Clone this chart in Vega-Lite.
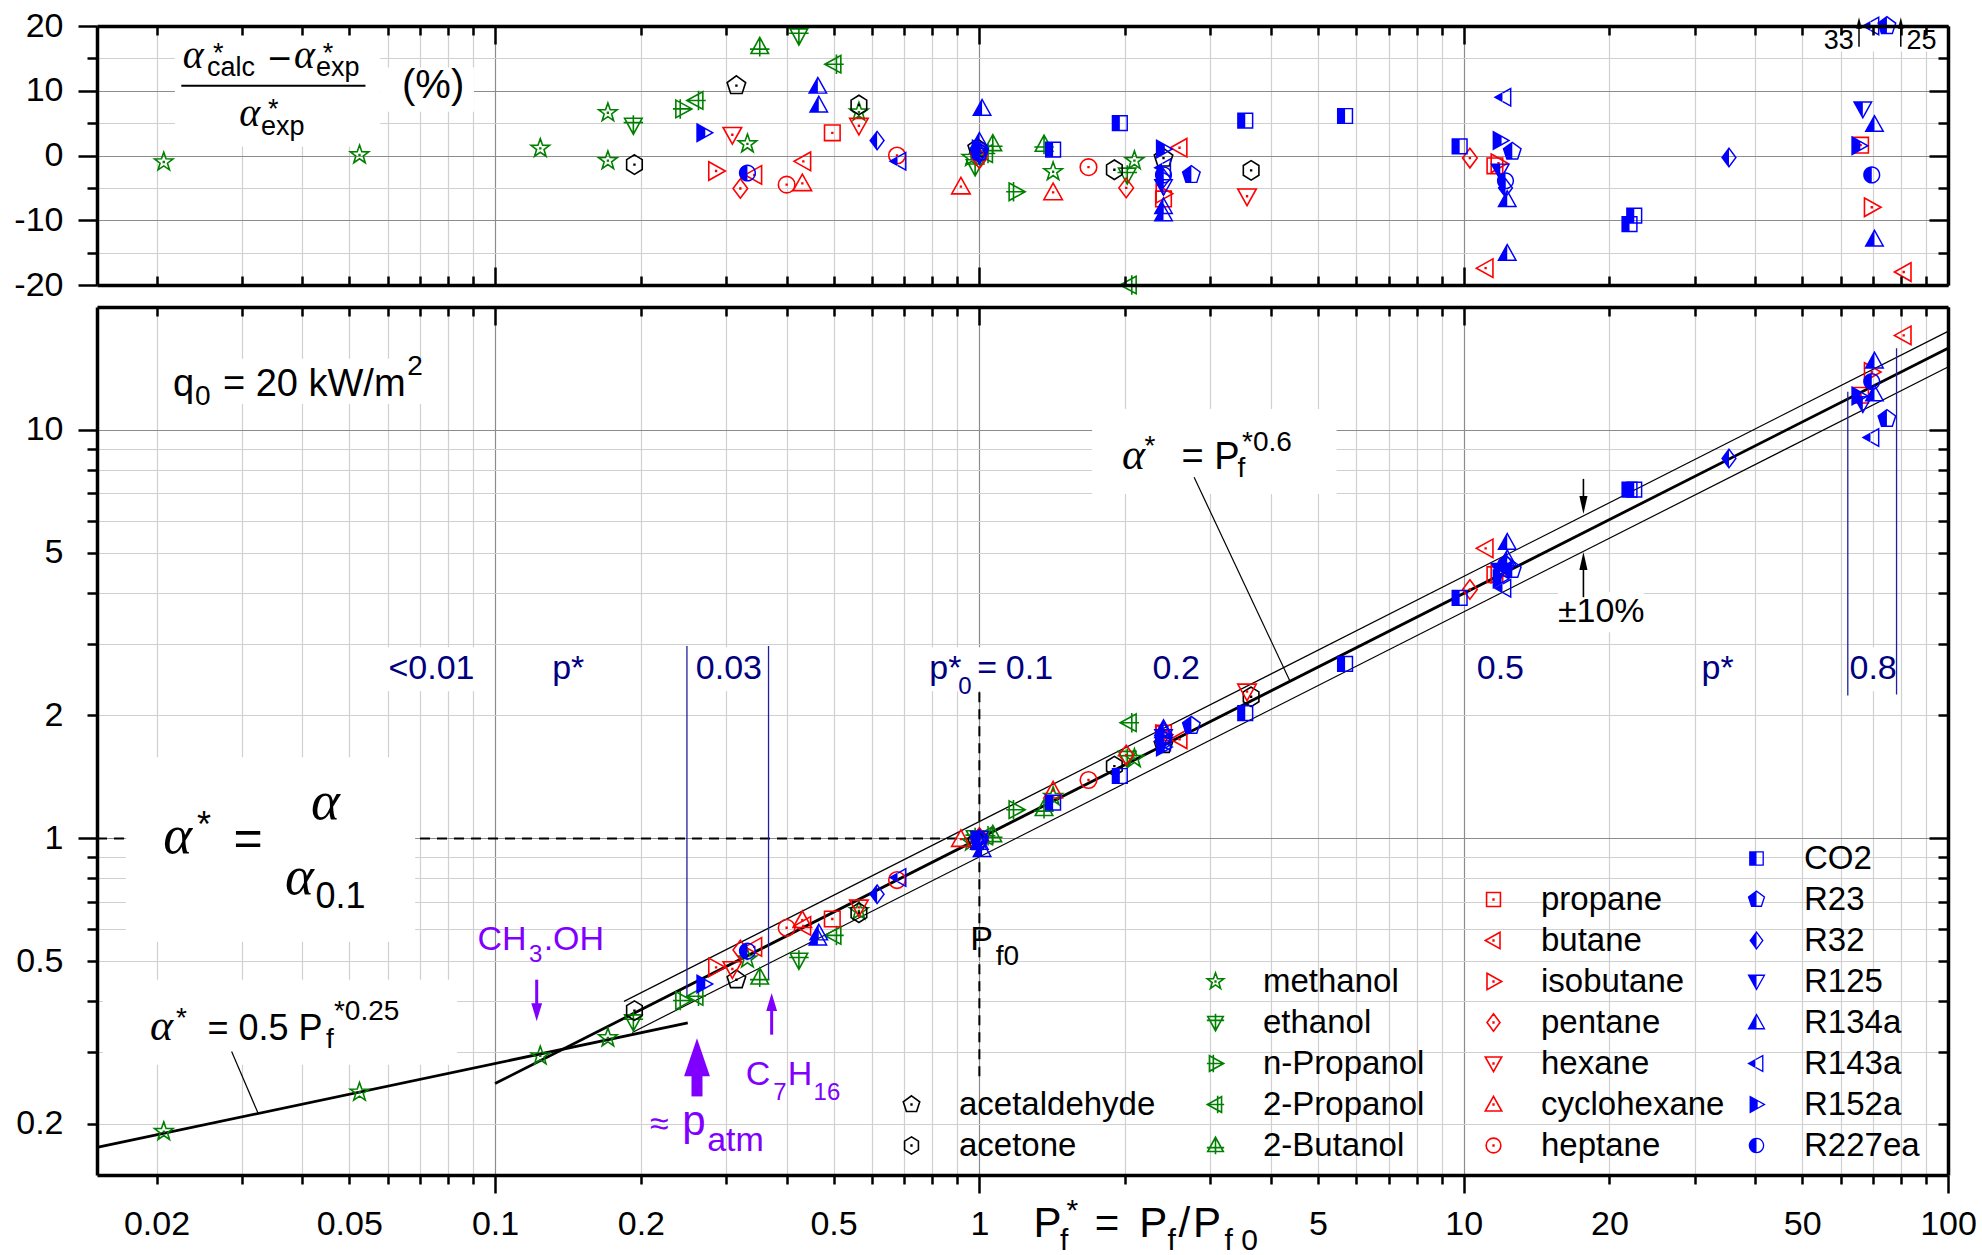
{
"$schema":"https://vega.github.io/schema/vega-lite/v6.json",
"background":"white",
"padding":{"left":13,"top":9,"right":5,"bottom":0},
"spacing":22,
"bounds":"flush",
"config":{
 "view":{"stroke":null},
 "axis":{"labelFont":"Liberation Sans","labelFontSize":34,"labelColor":"#000","tickColor":"#000","domainColor":"#000","labelFlush":false,"labelOverlap":false,"labelBound":false,"tickCap":"butt"},
 "text":{"font":"Liberation Sans"}
},
"resolve":{"scale":{"shape":"independent"},"legend":{"shape":"independent"}},
"datasets":{
 "dev":[
  {"s":"methanol","x":0.0207,"d":-1.0},{"s":"methanol","x":0.0525,"d":0.1},{"s":"methanol","x":0.124,"d":1.1},{"s":"methanol","x":0.171,"d":6.6},{"s":"methanol","x":0.171,"d":-0.8},{"s":"methanol","x":0.332,"d":1.8},{"s":"methanol","x":0.564,"d":6.7},{"s":"methanol","x":0.963,"d":-0.3},{"s":"methanol","x":1.42,"d":-2.5},{"s":"methanol","x":2.09,"d":-0.8},
  {"s":"ethanol","x":0.193,"d":4.7},{"s":"ethanol","x":0.424,"d":18.5},{"s":"ethanol","x":0.98,"d":-1.7},{"s":"ethanol","x":2.02,"d":-3.0},
  {"s":"n-Propanol","x":0.244,"d":7.2},{"s":"n-Propanol","x":1.19,"d":-5.6},
  {"s":"2-Propanol","x":0.26,"d":8.5},{"s":"2-Propanol","x":0.501,"d":14.1},{"s":"2-Propanol","x":1.03,"d":0.3},{"s":"2-Propanol","x":2.04,"d":-20.1},
  {"s":"2-Butanol","x":0.352,"d":16.8},{"s":"2-Butanol","x":1.066,"d":1.8},{"s":"2-Butanol","x":1.36,"d":1.7},
  {"s":"acetaldehyde","x":0.315,"d":10.8},{"s":"acetaldehyde","x":0.99,"d":1.1},{"s":"acetaldehyde","x":2.4,"d":-0.4},
  {"s":"acetone","x":0.194,"d":-1.4},{"s":"acetone","x":0.564,"d":7.8},{"s":"acetone","x":1.9,"d":-2.2},{"s":"acetone","x":3.64,"d":-2.3},
  {"s":"propane","x":0.497,"d":3.5},{"s":"propane","x":2.4,"d":-6.7},{"s":"propane","x":11.6,"d":-1.6},{"s":"propane","x":66,"d":1.6},
  {"s":"butane","x":0.343,"d":-3.0},{"s":"butane","x":0.433,"d":-0.9},{"s":"butane","x":2.59,"d":1.2},{"s":"butane","x":11.1,"d":-17.4},{"s":"butane","x":81,"d":-18.0},
  {"s":"isobutane","x":0.286,"d":-2.4},{"s":"isobutane","x":2.4,"d":-5.9},{"s":"isobutane","x":11.8,"d":-1.2},{"s":"isobutane","x":69.6,"d":-8.0},
  {"s":"pentane","x":0.321,"d":-5.1},{"s":"pentane","x":1.0,"d":-0.5},{"s":"pentane","x":2.01,"d":-5.0},{"s":"pentane","x":10.3,"d":-0.4},
  {"s":"hexane","x":0.309,"d":3.2},{"s":"hexane","x":0.564,"d":4.6},{"s":"hexane","x":3.57,"d":-6.3},
  {"s":"cyclohexane","x":0.431,"d":-4.3},{"s":"cyclohexane","x":0.916,"d":-4.8},{"s":"cyclohexane","x":1.42,"d":-5.7},
  {"s":"heptane","x":0.4,"d":-4.5},{"s":"heptane","x":0.676,"d":0.0},{"s":"heptane","x":1.0,"d":0.4},{"s":"heptane","x":1.68,"d":-1.8},
  {"s":"CO2","x":1.42,"d":0.9},{"s":"CO2","x":1.95,"d":5.0},{"s":"CO2","x":3.54,"d":5.4},{"s":"CO2","x":5.69,"d":6.1},{"s":"CO2","x":9.81,"d":1.4},{"s":"CO2","x":22.0,"d":-10.6},{"s":"CO2","x":22.5,"d":-9.3},
  {"s":"R23","x":1.0,"d":0.5},{"s":"R23","x":2.74,"d":-3.0},{"s":"R23","x":12.6,"d":0.6},{"s":"R23","x":74.8,"d":25},
  {"s":"R32","x":0.615,"d":2.3},{"s":"R32","x":1.0,"d":0.3},{"s":"R32","x":2.4,"d":-3.5},{"s":"R32","x":12.2,"d":-5.0},{"s":"R32","x":35.3,"d":-0.3},
  {"s":"R125","x":1.0,"d":0.0},{"s":"R125","x":2.4,"d":-4.8},{"s":"R125","x":11.9,"d":-2.4},{"s":"R125","x":66.7,"d":7.2},
  {"s":"R134a","x":0.464,"d":10.7},{"s":"R134a","x":0.466,"d":7.8},{"s":"R134a","x":1.013,"d":7.3},{"s":"R134a","x":1.0,"d":2.2},{"s":"R134a","x":2.4,"d":-7.9},{"s":"R134a","x":2.4,"d":-9.0},{"s":"R134a","x":12.3,"d":-6.8},{"s":"R134a","x":12.3,"d":-15.1},{"s":"R134a","x":70.5,"d":4.8},{"s":"R134a","x":70.5,"d":-12.9},
  {"s":"R143a","x":0.682,"d":-0.9},{"s":"R143a","x":2.4,"d":-1.9},{"s":"R143a","x":12.1,"d":9.0},{"s":"R143a","x":69.6,"d":33},
  {"s":"R152a","x":0.27,"d":3.5},{"s":"R152a","x":1.0,"d":1.0},{"s":"R152a","x":2.4,"d":1.0},{"s":"R152a","x":11.9,"d":2.3},{"s":"R152a","x":65.5,"d":1.5},
  {"s":"R227ea","x":0.332,"d":-2.7},{"s":"R227ea","x":1.0,"d":0.8},{"s":"R227ea","x":2.4,"d":-3.0},{"s":"R227ea","x":12.2,"d":-3.9},{"s":"R227ea","x":69.6,"d":-3.0}
 ],
 "alpha":[
  {"s":"methanol","x":0.0207,"a":0.1916},{"s":"methanol","x":0.0525,"a":0.2392},{"s":"methanol","x":0.124,"a":0.2935},{"s":"methanol","x":0.171,"a":0.325},{"s":"methanol","x":0.332,"a":0.507},{"s":"methanol","x":0.564,"a":0.665},{"s":"methanol","x":0.963,"a":0.9805},{"s":"methanol","x":1.42,"a":1.266},{"s":"methanol","x":2.09,"a":1.569},
  {"s":"ethanol","x":0.193,"a":0.356},{"s":"ethanol","x":0.424,"a":0.504},{"s":"ethanol","x":0.98,"a":1.005},{"s":"ethanol","x":2.02,"a":1.572},
  {"s":"n-Propanol","x":0.244,"a":0.401},{"s":"n-Propanol","x":1.19,"a":1.176},
  {"s":"2-Propanol","x":0.26,"a":0.4107},{"s":"2-Propanol","x":0.501,"a":0.579},{"s":"2-Propanol","x":1.03,"a":1.015},{"s":"2-Propanol","x":2.04,"a":1.92},
  {"s":"2-Butanol","x":0.352,"a":0.4575},{"s":"2-Butanol","x":1.066,"a":1.021},{"s":"2-Butanol","x":1.36,"a":1.1825},
  {"s":"acetaldehyde","x":0.315,"a":0.451},{"s":"acetaldehyde","x":0.99,"a":0.983},{"s":"acetaldehyde","x":2.4,"a":1.698},
  {"s":"acetone","x":0.194,"a":0.379},{"s":"acetone","x":0.564,"a":0.658},{"s":"acetone","x":1.9,"a":1.503},{"s":"acetone","x":3.64,"a":2.222},
  {"s":"propane","x":0.497,"a":0.635},{"s":"propane","x":2.4,"a":1.812},{"s":"propane","x":11.6,"a":4.423},{"s":"propane","x":66,"a":12.16},
  {"s":"butane","x":0.343,"a":0.5426},{"s":"butane","x":0.433,"a":0.6107},{"s":"butane","x":2.59,"a":1.749},{"s":"butane","x":11.1,"a":5.131},{"s":"butane","x":81,"a":17.04},
  {"s":"isobutane","x":0.286,"a":0.4835},{"s":"isobutane","x":2.4,"a":1.797},{"s":"isobutane","x":11.8,"a":4.45},{"s":"isobutane","x":69.6,"a":13.86},
  {"s":"pentane","x":0.321,"a":0.533},{"s":"pentane","x":1.0,"a":1.005},{"s":"pentane","x":2.01,"a":1.6},{"s":"pentane","x":10.3,"a":4.068},
  {"s":"hexane","x":0.309,"a":0.479},{"s":"hexane","x":0.564,"a":0.678},{"s":"hexane","x":3.57,"a":2.29},
  {"s":"cyclohexane","x":0.431,"a":0.6306},{"s":"cyclohexane","x":0.916,"a":0.9965},{"s":"cyclohexane","x":1.42,"a":1.309},
  {"s":"heptane","x":0.4,"a":0.6043},{"s":"heptane","x":0.676,"a":0.791},{"s":"heptane","x":1.0,"a":0.996},{"s":"heptane","x":1.68,"a":1.39},
  {"s":"CO2","x":1.42,"a":1.223},{"s":"CO2","x":1.95,"a":1.422},{"s":"CO2","x":3.54,"a":2.027},{"s":"CO2","x":5.69,"a":2.675},{"s":"CO2","x":9.81,"a":3.881},{"s":"CO2","x":22.0,"a":7.147},{"s":"CO2","x":22.5,"a":7.14},
  {"s":"R23","x":1.0,"a":0.995},{"s":"R23","x":2.74,"a":1.888},{"s":"R23","x":12.6,"a":4.546},{"s":"R23","x":74.8,"a":10.65},
  {"s":"R32","x":0.615,"a":0.73},{"s":"R32","x":1.0,"a":0.997},{"s":"R32","x":2.4,"a":1.752},{"s":"R32","x":12.2,"a":4.722},{"s":"R32","x":35.3,"a":8.511},
  {"s":"R125","x":1.0,"a":1.0},{"s":"R125","x":2.4,"a":1.776},{"s":"R125","x":11.9,"a":4.528},{"s":"R125","x":66.7,"a":11.6},
  {"s":"R134a","x":0.464,"a":0.57},{"s":"R134a","x":0.466,"a":0.587},{"s":"R134a","x":1.013,"a":0.939},{"s":"R134a","x":1.0,"a":0.978},{"s":"R134a","x":2.4,"a":1.836},{"s":"R134a","x":2.4,"a":1.858},{"s":"R134a","x":12.3,"a":4.837},{"s":"R134a","x":12.3,"a":5.309},{"s":"R134a","x":70.5,"a":12.26},{"s":"R134a","x":70.5,"a":14.75},
  {"s":"R143a","x":0.682,"a":0.802},{"s":"R143a","x":2.4,"a":1.724},{"s":"R143a","x":12.1,"a":4.095},{"s":"R143a","x":69.6,"a":9.59},
  {"s":"R152a","x":0.27,"a":0.4405},{"s":"R152a","x":1.0,"a":0.99},{"s":"R152a","x":2.4,"a":1.674},{"s":"R152a","x":11.9,"a":4.32},{"s":"R152a","x":65.5,"a":12.11},
  {"s":"R227ea","x":0.332,"a":0.53},{"s":"R227ea","x":1.0,"a":0.992},{"s":"R227ea","x":2.4,"a":1.743},{"s":"R227ea","x":12.2,"a":4.668},{"s":"R227ea","x":69.6,"a":13.14}
 ],
 "bL":[
  {"id":"fit","x":0.1,"y":0.2512},{"id":"fit","x":100,"y":15.85},
  {"id":"lowfit","x":0.01507,"y":0.1752},{"id":"lowfit","x":0.25,"y":0.3536},
  {"id":"plus10","x":0.1846,"y":0.3992},{"id":"plus10","x":100,"y":17.43},
  {"id":"minus10","x":0.192,"y":0.335},{"id":"minus10","x":100,"y":14.26},
  {"id":"lead1","x":0.02858,"y":0.301},{"id":"lead1","x":0.0324,"y":0.2127},
  {"id":"lead2","x":2.776,"y":7.66},{"id":"lead2","x":4.377,"y":2.43},
  {"id":"v1","x":0.249,"y":2.96},{"id":"v1","x":0.249,"y":0.41},
  {"id":"v2","x":0.367,"y":2.96},{"id":"v2","x":0.367,"y":0.451},
  {"id":"v3","x":62.1,"y":12.4},{"id":"v3","x":62.1,"y":2.24},
  {"id":"v4","x":78.3,"y":15.85},{"id":"v4","x":78.3,"y":2.25},
  {"id":"dashH","x":0.01507,"y":1},{"id":"dashH","x":1,"y":1},
  {"id":"dashV","x":1,"y":2.28},{"id":"dashV","x":1,"y":0.255},
  {"id":"arrD","x":17.67,"y":7.59},{"id":"arrD","x":17.67,"y":6.85},
  {"id":"arrU","x":17.67,"y":3.896},{"id":"arrU","x":17.67,"y":4.6},
  {"id":"ch3","x":0.1219,"y":0.451},{"id":"ch3","x":0.1219,"y":0.39},
  {"id":"c7","x":0.3725,"y":0.3309},{"id":"c7","x":0.3725,"y":0.385},
  {"id":"patm","x":0.2612,"y":0.2336},{"id":"patm","x":0.2612,"y":0.27}
 ],
 "bH":[
  {"id":"arrD","x":17.67,"y":6.551},{"id":"arrU","x":17.67,"y":4.775},{"id":"ch3","x":0.1219,"y":0.3756},{"id":"c7","x":0.3725,"y":0.3975},{"id":"patm","x":0.2612,"y":0.2913}
 ],
 "bB":[
  {"x":0.02077,"x2":0.07295,"y":11.58,"y2":14.93},
  {"x":0.01728,"x2":0.0684,"y":0.559,"y2":1.58},
  {"x":0.0155,"x2":0.0835,"y":0.2793,"y2":0.451},
  {"x":1.708,"x2":5.464,"y":6.97,"y2":11.26},
  {"x":15.65,"x2":23.54,"y":3.198,"y2":4.009},
  {"x":0.05954,"x2":0.09136,"y":2.293,"y2":2.938},
  {"x":0.1287,"x2":0.1556,"y":2.293,"y2":2.938},
  {"x":0.2529,"x2":0.3613,"y":2.293,"y2":2.938},
  {"x":0.7734,"x2":1.456,"y":2.293,"y2":2.938},
  {"x":2.235,"x2":2.917,"y":2.293,"y2":2.938},
  {"x":10.44,"x2":13.75,"y":2.293,"y2":2.938},
  {"x":30.44,"x2":37.36,"y":2.293,"y2":2.938},
  {"x":62.44,"x2":78.09,"y":2.293,"y2":2.938}
 ],
 "bA55":[{"x":0.02066,"y":0.9225,"t":"α"},{"x":0.04167,"y":1.1131,"t":"α"},{"x":0.03682,"y":0.7291,"t":"α"}],
 "bA40":[{"x":0.0194,"y":0.3217,"t":"α"},{"x":1.971,"y":8.025,"t":"α"}],
 "bT50":[{"x":0.02883,"y":0.9085,"t":"="}],
 "bT38":[{"x":0.02163,"y":12.14,"t":"q"},{"x":0.02742,"y":12.14,"t":"= 20 kW/m"},{"x":2.615,"y":8.025,"t":"= P"}],
 "bT36":[{"x":0.02423,"y":1.011,"t":"*"},{"x":0.04259,"y":0.6763,"t":"0.1"},{"x":0.02549,"y":0.3217,"t":"= 0.5 P"}],
 "bT34":[{"x":15.65,"y":3.379,"t":"±10%"},{"x":0.9572,"y":0.5344,"t":"P"}],
 "bT28":[{"x":0.024,"y":11.51,"t":"0"},{"x":0.0659,"y":13.64,"t":"2"},{"x":0.02193,"y":0.3447,"t":"*"},{"x":0.04475,"y":0.3069,"t":"f"},{"x":0.04649,"y":0.36,"t":"*0.25"},{"x":2.193,"y":8.684,"t":"*"},{"x":3.412,"y":7.671,"t":"f"},{"x":3.486,"y":8.898,"t":"*0.6"},{"x":1.0806,"y":0.4911,"t":"f0"}],
 "bN34":[{"x":0.06025,"y":2.453,"t":"<0.01"},{"x":0.1312,"y":2.453,"t":"p*"},{"x":0.2597,"y":2.453,"t":"0.03"},{"x":0.7883,"y":2.453,"t":"p*"},{"x":0.9905,"y":2.453,"t":"="},{"x":1.134,"y":2.453,"t":"0.1"},{"x":2.278,"y":2.453,"t":"0.2"},{"x":10.64,"y":2.453,"t":"0.5"},{"x":30.98,"y":2.453,"t":"p*"},{"x":62.6,"y":2.453,"t":"0.8"}],
 "bN24":[{"x":0.905,"y":2.254,"t":"0"}],
 "bP34":[{"x":0.09202,"y":0.5344,"t":"CH"},{"x":0.126,"y":0.5344,"t":".OH"},{"x":0.3295,"y":0.2495,"t":"C"},{"x":0.4021,"y":0.2495,"t":"H"},{"x":0.2088,"y":0.1881,"t":"≈"},{"x":0.2742,"y":0.1713,"t":"atm"}],
 "bP24":[{"x":0.1175,"y":0.4975,"t":"3"},{"x":0.3753,"y":0.2293,"t":"7"},{"x":0.4546,"y":0.2293,"t":"16"}],
 "bP42":[{"x":0.2434,"y":0.1881,"t":"p"}],
 "bX42":[{"x":1.293,"y":0.1059,"t":"P"},{"x":1.731,"y":0.1059,"t":"="},{"x":2.138,"y":0.1059,"t":"P"},{"x":2.577,"y":0.1059,"t":"/"},{"x":2.761,"y":0.1059,"t":"P"}],
 "bX30":[{"x":1.467,"y":0.09831,"t":"f"},{"x":1.513,"y":0.1165,"t":"*"},{"x":2.446,"y":0.09831,"t":"f"},{"x":3.208,"y":0.09831,"t":"f 0"}],
 "tL":[
  {"id":"bar","x":0.0225,"y":10.77},{"id":"bar","x":0.054,"y":10.77},
  {"id":"a33","x":65.5,"y":16.8},{"id":"a33","x":65.5,"y":19.7},
  {"id":"a25","x":79.9,"y":16.8},{"id":"a25","x":79.9,"y":19.7}
 ],
 "tH":[{"x":65.5,"y":20.46},{"x":79.9,"y":20.46}],
 "tB":[{"x":0.02182,"x2":0.0579,"y":1.4,"y2":19.4},{"x":0.0579,"x2":0.0905,"y":6.75,"y2":13.6},{"x":54.4,"x2":100,"y":16.07,"y2":21}],
 "tA40":[{"x":0.02266,"y":13.51,"t":"α"},{"x":0.03843,"y":13.51,"t":"α"},{"x":0.02965,"y":4.48,"t":"α"}],
 "tT27":[{"x":0.02615,"y":14.44,"t":"*"},{"x":0.02541,"y":12.21,"t":"calc"},{"x":0.0441,"y":14.44,"t":"*"},{"x":0.04268,"y":12.21,"t":"exp"},{"x":0.03396,"y":5.72,"t":"*"},{"x":0.03285,"y":3.2,"t":"exp"},{"x":55.4,"y":16.45,"t":"33"},{"x":82.1,"y":16.45,"t":"25"}],
 "tT40":[{"x":0.03396,"y":12.94,"t":"−"},{"x":0.06426,"y":8.84,"t":"(%)"}]
},
"vconcat":[
{
 "width":1851,"height":259,
 "resolve":{"scale":{"shape":"independent","y":"independent"},"axis":{"x":"independent","y":"independent"}},
 "layer":[
  {"data":{"values":[]},"mark":{"type":"point","opacity":0},"encoding":{
   "x":{"field":"x","type":"quantitative","scale":{"type":"log","domain":[0.01507,100],"nice":false},"axis":{"orient":"bottom","values":[0.02,0.03,0.04,0.05,0.06,0.07,0.08,0.09,0.2,0.3,0.4,0.5,0.6,0.7,0.8,0.9,2,3,4,5,6,7,8,9,20,30,40,50,60,70,80,90],"grid":true,"gridColor":"#d0d0d0","gridWidth":1.2,"ticks":false,"labels":false,"domain":false,"title":null,"zindex":0}},
   "y":{"field":"y","type":"quantitative","scale":{"domain":[-20,20],"nice":false,"zero":false},"axis":{"orient":"left","values":[-15,-5,5,15],"grid":true,"gridColor":"#d0d0d0","gridWidth":1.2,"ticks":false,"labels":false,"domain":false,"title":null,"zindex":0}}}},
  {"data":{"values":[]},"mark":{"type":"point","opacity":0},"encoding":{
   "x":{"field":"x","type":"quantitative","scale":{"type":"log","domain":[0.01507,100],"nice":false},"axis":{"orient":"bottom","values":[0.1,1,10,100],"grid":true,"gridColor":"#8c8c8c","gridWidth":1.2,"ticks":false,"labels":false,"domain":false,"title":null,"zindex":0}},
   "y":{"field":"y","type":"quantitative","scale":{"domain":[-20,20],"nice":false,"zero":false},"axis":{"orient":"left","values":[-10,0,10],"grid":true,"gridColor":"#8c8c8c","gridWidth":1.2,"ticks":false,"labels":false,"domain":false,"title":null,"zindex":0}}}},
  {"data":{"values":[]},"mark":{"type":"point","opacity":0},"encoding":{
   "x":{"field":"x","type":"quantitative","scale":{"type":"log","domain":[0.01507,100],"nice":false},"axis":{"orient":"bottom","values":[0.02,0.03,0.04,0.05,0.06,0.07,0.08,0.09,0.2,0.3,0.4,0.5,0.6,0.7,0.8,0.9,2,3,4,5,6,7,8,9,20,30,40,50,60,70,80,90],"offset":-9,"tickSize":9,"tickWidth":2.5,"grid":false,"labels":false,"domain":false,"title":null,"zindex":1}},
   "y":{"field":"y","type":"quantitative","scale":{"domain":[-20,20],"nice":false,"zero":false},"axis":{"orient":"left","values":[-15,-5,5,15],"tickSize":10,"tickWidth":2.5,"grid":false,"labels":false,"domain":false,"title":null,"zindex":1}}}},
  {"data":{"values":[]},"mark":{"type":"point","opacity":0},"encoding":{
   "x":{"field":"x","type":"quantitative","scale":{"type":"log","domain":[0.01507,100],"nice":false},"axis":{"orient":"bottom","values":[0.1,1,10,100],"offset":-18,"tickSize":18,"tickWidth":2.5,"grid":false,"labels":false,"domain":false,"title":null,"zindex":1}},
   "y":{"field":"y","type":"quantitative","scale":{"domain":[-20,20],"nice":false,"zero":false},"axis":{"orient":"left","values":[-20,-10,0,10,20],"tickSize":19,"tickWidth":2.5,"grid":false,"labels":false,"domain":true,"domainWidth":3.5,"title":null,"zindex":1}}}},
  {"data":{"values":[]},"mark":{"type":"point","opacity":0},"encoding":{
   "x":{"field":"x","type":"quantitative","scale":{"type":"log","domain":[0.01507,100],"nice":false},"axis":{"orient":"bottom","ticks":false,"grid":false,"labels":false,"domain":true,"domainWidth":3.5,"title":null,"zindex":1}},
   "y":{"field":"y","type":"quantitative","scale":{"domain":[-20,20],"nice":false,"zero":false},"axis":{"orient":"left","values":[-20,-10,0,10,20],"labelExpr":"replace(datum.label, '−', '-')","ticks":false,"grid":false,"labels":true,"labelPadding":34,"domain":false,"title":null,"zindex":1}}}},
  {"data":{"values":[]},"mark":{"type":"point","opacity":0},"encoding":{
   "x":{"field":"x","type":"quantitative","scale":{"type":"log","domain":[0.01507,100],"nice":false},"axis":{"orient":"top","values":[0.02,0.03,0.04,0.05,0.06,0.07,0.08,0.09,0.2,0.3,0.4,0.5,0.6,0.7,0.8,0.9,2,3,4,5,6,7,8,9,20,30,40,50,60,70,80,90],"offset":-9,"tickSize":9,"tickWidth":2.5,"grid":false,"labels":false,"domain":false,"title":null,"zindex":1}},
   "y":{"field":"y","type":"quantitative","scale":{"domain":[-20,20],"nice":false,"zero":false},"axis":{"orient":"right","values":[-15,-5,5,15],"offset":-10,"tickSize":10,"tickWidth":2.5,"grid":false,"labels":false,"domain":false,"title":null,"zindex":1}}}},
  {"data":{"values":[]},"mark":{"type":"point","opacity":0},"encoding":{
   "x":{"field":"x","type":"quantitative","scale":{"type":"log","domain":[0.01507,100],"nice":false},"axis":{"orient":"top","values":[0.1,1,10,100],"offset":-18,"tickSize":18,"tickWidth":2.5,"grid":false,"labels":false,"domain":false,"title":null,"zindex":1}},
   "y":{"field":"y","type":"quantitative","scale":{"domain":[-20,20],"nice":false,"zero":false},"axis":{"orient":"right","values":[-20,-10,0,10,20],"offset":-19,"tickSize":19,"tickWidth":2.5,"grid":false,"labels":false,"domain":false,"title":null,"zindex":1}}}},
  {"data":{"values":[]},"mark":{"type":"point","opacity":0},"encoding":{
   "x":{"field":"x","type":"quantitative","scale":{"type":"log","domain":[0.01507,100],"nice":false},"axis":{"orient":"top","ticks":false,"grid":false,"labels":false,"domain":true,"domainWidth":3.5,"title":null,"zindex":1}},
   "y":{"field":"y","type":"quantitative","scale":{"domain":[-20,20],"nice":false,"zero":false},"axis":{"orient":"right","ticks":false,"grid":false,"labels":false,"domain":true,"domainWidth":3.5,"title":null,"zindex":1}}}},
  {"data":{"name":"tB"},"mark":{"type":"rect","color":"white"},"encoding":{
   "x":{"field":"x","type":"quantitative","scale":{"type":"log","domain":[0.01507,100],"nice":false},"axis":null},"x2":{"field":"x2"},
   "y":{"field":"y","type":"quantitative","scale":{"domain":[-20,20],"nice":false,"zero":false},"axis":null},"y2":{"field":"y2"}}},
  {"data":{"name":"dev"},"transform":[{"filter":{"field":"s","oneOf":["methanol","ethanol","n-Propanol","2-Propanol","2-Butanol"]}}],
   "mark":{"type":"point","filled":false,"color":"#008000","strokeWidth":1.6,"size":380,"opacity":1},
   "encoding":{"x":{"field":"x","type":"quantitative","scale":{"type":"log","domain":[0.01507,100],"nice":false},"axis":null},
    "y":{"field":"d","type":"quantitative","scale":{"domain":[-20,20],"nice":false,"zero":false,"clamp":true},"axis":null},
    "shape":{"field":"s","type":"nominal","legend":null,"scale":{"domain":["methanol","ethanol","n-Propanol","2-Propanol","2-Butanol"],"range":[
     "M0,-1L0.235,-0.324L0.951,-0.309L0.38,0.124L0.588,0.809L0,0.4L-0.588,0.809L-0.38,0.124L-0.951,-0.309L-0.235,-0.324Z M-0.04,-0.04L0.04,-0.04L0.04,0.04L-0.04,0.04Z",
     "M-0.9,-0.7L0.9,-0.7L0,0.95Z M-1,-0.25L1,-0.25 M0,-1L0,0.95",
     "M-0.7,-0.9L0.95,0L-0.7,0.9Z M-0.25,-1L-0.25,1 M-1,0L0.95,0",
     "M0.7,-0.9L-0.95,0L0.7,0.9Z M0.25,-1L0.25,1 M1,0L-0.95,0",
     "M-0.9,0.7L0.9,0.7L0,-0.95Z M-1,0.25L1,0.25 M0,1L0,-0.95"]}}}},
  {"data":{"name":"dev"},"transform":[{"filter":{"field":"s","oneOf":["acetaldehyde","acetone"]}}],
   "mark":{"type":"point","filled":false,"color":"#000000","strokeWidth":1.6,"size":380,"opacity":1},
   "encoding":{"x":{"field":"x","type":"quantitative","scale":{"type":"log","domain":[0.01507,100],"nice":false},"axis":null},
    "y":{"field":"d","type":"quantitative","scale":{"domain":[-20,20],"nice":false,"zero":false,"clamp":true},"axis":null},
    "shape":{"field":"s","type":"nominal","legend":null,"scale":{"domain":["acetaldehyde","acetone"],"range":[
     "M0,-1L0.951,-0.309L0.588,0.809L-0.588,0.809L-0.951,-0.309Z M-0.04,-0.04L0.04,-0.04L0.04,0.04L-0.04,0.04Z",
     "M0,-1L0.8,-0.5L0.8,0.5L0,1L-0.8,0.5L-0.8,-0.5Z M-0.04,-0.04L0.04,-0.04L0.04,0.04L-0.04,0.04Z"]}}}},
  {"data":{"name":"dev"},"transform":[{"filter":{"field":"s","oneOf":["propane","butane","isobutane","pentane","hexane","cyclohexane","heptane"]}}],
   "mark":{"type":"point","filled":false,"color":"#ff0000","strokeWidth":1.6,"size":380,"opacity":1},
   "encoding":{"x":{"field":"x","type":"quantitative","scale":{"type":"log","domain":[0.01507,100],"nice":false},"axis":null},
    "y":{"field":"d","type":"quantitative","scale":{"domain":[-20,20],"nice":false,"zero":false,"clamp":true},"axis":null},
    "shape":{"field":"s","type":"nominal","legend":null,"scale":{"domain":["propane","butane","isobutane","pentane","hexane","cyclohexane","heptane"],"range":[
     "M-0.8,-0.8L0.8,-0.8L0.8,0.8L-0.8,0.8Z M-0.04,-0.04L0.04,-0.04L0.04,0.04L-0.04,0.04Z",
     "M0.75,-0.95L-0.95,0L0.75,0.95Z M-0.04,-0.04L0.04,-0.04L0.04,0.04L-0.04,0.04Z",
     "M-0.75,-0.95L0.95,0L-0.75,0.95Z M-0.04,-0.04L0.04,-0.04L0.04,0.04L-0.04,0.04Z",
     "M0,-1L0.75,0L0,1L-0.75,0Z M-0.04,-0.04L0.04,-0.04L0.04,0.04L-0.04,0.04Z",
     "M-0.95,-0.75L0.95,-0.75L0,0.95Z M-0.04,-0.04L0.04,-0.04L0.04,0.04L-0.04,0.04Z",
     "M-0.95,0.75L0.95,0.75L0,-0.95Z M-0.04,-0.04L0.04,-0.04L0.04,0.04L-0.04,0.04Z",
     "M-0.85,0A0.85,0.85 0 1,0 0.85,0A0.85,0.85 0 1,0 -0.85,0Z M-0.04,-0.04L0.04,-0.04L0.04,0.04L-0.04,0.04Z"]}}}},
  {"data":{"name":"dev"},"transform":[{"filter":{"field":"s","oneOf":["CO2","R23","R32","R125","R134a","R143a","R152a","R227ea"]}}],
   "mark":{"type":"point","filled":true,"color":"#0000ff","strokeWidth":0,"size":340,"opacity":1},
   "encoding":{"x":{"field":"x","type":"quantitative","scale":{"type":"log","domain":[0.01507,100],"nice":false},"axis":null},
    "y":{"field":"d","type":"quantitative","scale":{"domain":[-20,20],"nice":false,"zero":false,"clamp":true},"axis":null},
    "shape":{"field":"s","type":"nominal","legend":null,"scale":{"domain":["CO2","R23","R32","R125","R134a","R143a","R152a","R227ea"],"range":[
     "M-0.88,-0.88L0,-0.88L0,0.88L-0.88,0.88Z M0,-0.88L0.88,-0.88L0.88,0.88L0,0.88L0,0.72L0.72,0.72L0.72,-0.72L0,-0.72Z",
     "M0,-1.099L-1.045,-0.34L-0.646,0.889L0,0.889Z M0,-1.099L1.045,-0.34L0.646,0.889L0,0.889L0,0.729L0.53,0.729L0.857,-0.278L0,-0.901Z",
     "M0,-1.133L-0.85,0L0,1.133Z M0,-1.133L0.85,0L0,1.133L0,0.867L0.65,0L0,-0.867Z",
     "M0,-0.83L-1.086,-0.83L0,1.114Z M0,-0.83L1.086,-0.83L0,1.114L0,0.786L0.814,-0.67L0,-0.67Z",
     "M0,0.83L-1.086,0.83L0,-1.114Z M0,0.83L1.086,0.83L0,-1.114L0,-0.786L0.814,0.67L0,0.67Z",
     "M-1.114,0L-0.142,-0.543L-0.142,0.543Z M-0.142,-0.543L0.83,-1.086L0.83,1.086L-0.142,0.543L-0.058,0.407L0.67,0.814L0.67,-0.814L-0.058,-0.407Z",
     "M-0.83,-1.086L0.142,-0.543L0.142,0.543L-0.83,1.086Z M0.142,-0.543L1.114,0L0.142,0.543L0.058,0.407L0.786,0L0.058,-0.407Z",
     "M0,-0.93A0.93,0.93 0 0,0 0,0.93Z M0,-0.93A0.93,0.93 0 0,1 0,0.93L0,0.77A0.77,0.77 0 0,0 0,-0.77Z"]}}}},
  {"data":{"name":"tL"},"transform":[{"filter":{"field":"id","equal":"bar"}}],"mark":{"type":"line","color":"black","strokeWidth":2},"encoding":{
   "x":{"field":"x","type":"quantitative","scale":{"type":"log","domain":[0.01507,100],"nice":false},"axis":null},
   "y":{"field":"y","type":"quantitative","scale":{"domain":[-20,20],"nice":false,"zero":false},"axis":null},"detail":{"field":"id"}}},
  {"data":{"name":"tL"},"transform":[{"filter":{"field":"id","oneOf":["a33","a25"]}}],"mark":{"type":"line","color":"black","strokeWidth":1.5},"encoding":{
   "x":{"field":"x","type":"quantitative","scale":{"type":"log","domain":[0.01507,100],"nice":false},"axis":null},
   "y":{"field":"y","type":"quantitative","scale":{"domain":[-20,20],"nice":false,"zero":false},"axis":null},"detail":{"field":"id"}}},
  {"data":{"name":"tH"},"mark":{"type":"point","shape":"M0,-1L0.5,1L-0.5,1Z","filled":true,"color":"black","size":128,"opacity":1,"strokeWidth":0},"encoding":{
   "x":{"field":"x","type":"quantitative","scale":{"type":"log","domain":[0.01507,100],"nice":false},"axis":null},
   "y":{"field":"y","type":"quantitative","scale":{"domain":[-20,20],"nice":false,"zero":false},"axis":null}}},
  {"data":{"name":"tA40"},"mark":{"type":"text","align":"left","baseline":"alphabetic","font":"Liberation Serif","fontStyle":"italic","fontSize":40,"color":"black"},"encoding":{
   "x":{"field":"x","type":"quantitative","scale":{"type":"log","domain":[0.01507,100],"nice":false},"axis":null},
   "y":{"field":"y","type":"quantitative","scale":{"domain":[-20,20],"nice":false,"zero":false},"axis":null},"text":{"field":"t"}}},
  {"data":{"name":"tT27"},"mark":{"type":"text","align":"left","baseline":"alphabetic","font":"Liberation Sans","fontSize":27,"color":"black"},"encoding":{
   "x":{"field":"x","type":"quantitative","scale":{"type":"log","domain":[0.01507,100],"nice":false},"axis":null},
   "y":{"field":"y","type":"quantitative","scale":{"domain":[-20,20],"nice":false,"zero":false},"axis":null},"text":{"field":"t"}}},
  {"data":{"name":"tT40"},"mark":{"type":"text","align":"left","baseline":"alphabetic","font":"Liberation Sans","fontSize":40,"color":"black"},"encoding":{
   "x":{"field":"x","type":"quantitative","scale":{"type":"log","domain":[0.01507,100],"nice":false},"axis":null},
   "y":{"field":"y","type":"quantitative","scale":{"domain":[-20,20],"nice":false,"zero":false},"axis":null},"text":{"field":"t"}}}
 ]
},
{
 "width":1851,"height":868,
 "resolve":{"scale":{"shape":"independent"},"axis":{"x":"independent","y":"independent"},"legend":{"shape":"independent"}},
 "layer":[
  {"data":{"values":[]},"mark":{"type":"point","opacity":0},"encoding":{
   "x":{"field":"x","type":"quantitative","scale":{"type":"log","domain":[0.01507,100],"nice":false},"axis":{"orient":"bottom","values":[0.02,0.03,0.04,0.05,0.06,0.07,0.08,0.09,0.2,0.3,0.4,0.5,0.6,0.7,0.8,0.9,2,3,4,5,6,7,8,9,20,30,40,50,60,70,80,90],"grid":true,"gridColor":"#d0d0d0","gridWidth":1.2,"ticks":false,"labels":false,"domain":false,"title":null,"zindex":0}},
   "y":{"field":"y","type":"quantitative","scale":{"type":"log","domain":[0.15,20],"nice":false},"axis":{"orient":"left","values":[0.2,0.3,0.4,0.5,0.6,0.7,0.8,0.9,2,3,4,5,6,7,8,9],"grid":true,"gridColor":"#d0d0d0","gridWidth":1.2,"ticks":false,"labels":false,"domain":false,"title":null,"zindex":0}}}},
  {"data":{"values":[]},"mark":{"type":"point","opacity":0},"encoding":{
   "x":{"field":"x","type":"quantitative","scale":{"type":"log","domain":[0.01507,100],"nice":false},"axis":{"orient":"bottom","values":[0.1,1,10,100],"grid":true,"gridColor":"#8c8c8c","gridWidth":1.2,"ticks":false,"labels":false,"domain":false,"title":null,"zindex":0}},
   "y":{"field":"y","type":"quantitative","scale":{"type":"log","domain":[0.15,20],"nice":false},"axis":{"orient":"left","values":[1,10],"grid":true,"gridColor":"#8c8c8c","gridWidth":1.2,"ticks":false,"labels":false,"domain":false,"title":null,"zindex":0}}}},
  {"data":{"values":[]},"mark":{"type":"point","opacity":0},"encoding":{
   "x":{"field":"x","type":"quantitative","scale":{"type":"log","domain":[0.01507,100],"nice":false},"axis":{"orient":"bottom","values":[0.02,0.03,0.04,0.05,0.06,0.07,0.08,0.09,0.2,0.3,0.4,0.5,0.6,0.7,0.8,0.9,2,3,4,5,6,7,8,9,20,30,40,50,60,70,80,90],"tickSize":9,"tickWidth":2.5,"grid":false,"labels":false,"domain":false,"title":null,"zindex":1}},
   "y":{"field":"y","type":"quantitative","scale":{"type":"log","domain":[0.15,20],"nice":false},"axis":{"orient":"left","values":[0.2,0.3,0.4,0.5,0.6,0.7,0.8,0.9,2,3,4,5,6,7,8,9],"tickSize":10,"tickWidth":2.5,"grid":false,"labels":false,"domain":false,"title":null,"zindex":1}}}},
  {"data":{"values":[]},"mark":{"type":"point","opacity":0},"encoding":{
   "x":{"field":"x","type":"quantitative","scale":{"type":"log","domain":[0.01507,100],"nice":false},"axis":{"orient":"bottom","values":[0.1,1,10,100],"tickSize":18,"tickWidth":2.5,"grid":false,"labels":false,"domain":true,"domainWidth":3.5,"title":null,"zindex":1}},
   "y":{"field":"y","type":"quantitative","scale":{"type":"log","domain":[0.15,20],"nice":false},"axis":{"orient":"left","values":[1,10],"tickSize":19,"tickWidth":2.5,"grid":false,"labels":false,"domain":true,"domainWidth":3.5,"title":null,"zindex":1}}}},
  {"data":{"values":[]},"mark":{"type":"point","opacity":0},"encoding":{
   "x":{"field":"x","type":"quantitative","scale":{"type":"log","domain":[0.01507,100],"nice":false},"axis":{"orient":"bottom","values":[0.02,0.05,0.1,0.2,0.5,1,5,10,20,50,100],"format":"~g","ticks":false,"grid":false,"labels":true,"labelPadding":32,"domain":false,"title":null,"zindex":1}},
   "y":{"field":"y","type":"quantitative","scale":{"type":"log","domain":[0.15,20],"nice":false},"axis":{"orient":"left","values":[0.2,0.5,1,2,5,10],"format":"~g","ticks":false,"grid":false,"labels":true,"labelPadding":34,"domain":false,"title":null,"zindex":1}}}},
  {"data":{"values":[]},"mark":{"type":"point","opacity":0},"encoding":{
   "x":{"field":"x","type":"quantitative","scale":{"type":"log","domain":[0.01507,100],"nice":false},"axis":{"orient":"top","values":[0.02,0.03,0.04,0.05,0.06,0.07,0.08,0.09,0.2,0.3,0.4,0.5,0.6,0.7,0.8,0.9,2,3,4,5,6,7,8,9,20,30,40,50,60,70,80,90],"offset":-9,"tickSize":9,"tickWidth":2.5,"grid":false,"labels":false,"domain":false,"title":null,"zindex":1}},
   "y":{"field":"y","type":"quantitative","scale":{"type":"log","domain":[0.15,20],"nice":false},"axis":{"orient":"right","values":[0.2,0.3,0.4,0.5,0.6,0.7,0.8,0.9,2,3,4,5,6,7,8,9],"offset":-10,"tickSize":10,"tickWidth":2.5,"grid":false,"labels":false,"domain":false,"title":null,"zindex":1}}}},
  {"data":{"values":[]},"mark":{"type":"point","opacity":0},"encoding":{
   "x":{"field":"x","type":"quantitative","scale":{"type":"log","domain":[0.01507,100],"nice":false},"axis":{"orient":"top","values":[0.1,1,10,100],"offset":-18,"tickSize":18,"tickWidth":2.5,"grid":false,"labels":false,"domain":false,"title":null,"zindex":1}},
   "y":{"field":"y","type":"quantitative","scale":{"type":"log","domain":[0.15,20],"nice":false},"axis":{"orient":"right","values":[1,10],"offset":-19,"tickSize":19,"tickWidth":2.5,"grid":false,"labels":false,"domain":false,"title":null,"zindex":1}}}},
  {"data":{"values":[]},"mark":{"type":"point","opacity":0},"encoding":{
   "x":{"field":"x","type":"quantitative","scale":{"type":"log","domain":[0.01507,100],"nice":false},"axis":{"orient":"top","ticks":false,"grid":false,"labels":false,"domain":true,"domainWidth":3.5,"title":null,"zindex":1}},
   "y":{"field":"y","type":"quantitative","scale":{"type":"log","domain":[0.15,20],"nice":false},"axis":{"orient":"right","ticks":false,"grid":false,"labels":false,"domain":true,"domainWidth":3.5,"title":null,"zindex":1}}}},
  {"data":{"name":"bL"},"transform":[{"filter":{"field":"id","oneOf":["dashH","dashV"]}}],"mark":{"type":"line","color":"black","strokeWidth":2,"strokeDash":[10,7]},"encoding":{
   "x":{"field":"x","type":"quantitative","scale":{"type":"log","domain":[0.01507,100],"nice":false},"axis":null},
   "y":{"field":"y","type":"quantitative","scale":{"type":"log","domain":[0.15,20],"nice":false},"axis":null},"detail":{"field":"id"}}},
  {"data":{"name":"bB"},"mark":{"type":"rect","color":"white"},"encoding":{
   "x":{"field":"x","type":"quantitative","scale":{"type":"log","domain":[0.01507,100],"nice":false},"axis":null},"x2":{"field":"x2"},
   "y":{"field":"y","type":"quantitative","scale":{"type":"log","domain":[0.15,20],"nice":false},"axis":null},"y2":{"field":"y2"}}},
  {"data":{"name":"bL"},"transform":[{"filter":{"field":"id","oneOf":["fit","lowfit"]}}],"mark":{"type":"line","color":"black","strokeWidth":2.8},"encoding":{
   "x":{"field":"x","type":"quantitative","scale":{"type":"log","domain":[0.01507,100],"nice":false},"axis":null},
   "y":{"field":"y","type":"quantitative","scale":{"type":"log","domain":[0.15,20],"nice":false},"axis":null},"detail":{"field":"id"}}},
  {"data":{"name":"bL"},"transform":[{"filter":{"field":"id","oneOf":["plus10","minus10","lead1","lead2"]}}],"mark":{"type":"line","color":"black","strokeWidth":1.2},"encoding":{
   "x":{"field":"x","type":"quantitative","scale":{"type":"log","domain":[0.01507,100],"nice":false},"axis":null},
   "y":{"field":"y","type":"quantitative","scale":{"type":"log","domain":[0.15,20],"nice":false},"axis":null},"detail":{"field":"id"}}},
  {"data":{"name":"bL"},"transform":[{"filter":{"field":"id","oneOf":["v1","v2","v3","v4"]}}],"mark":{"type":"line","color":"#1f1f9f","strokeWidth":1.3},"encoding":{
   "x":{"field":"x","type":"quantitative","scale":{"type":"log","domain":[0.01507,100],"nice":false},"axis":null},
   "y":{"field":"y","type":"quantitative","scale":{"type":"log","domain":[0.15,20],"nice":false},"axis":null},"detail":{"field":"id"}}},
  {"data":{"name":"alpha"},"transform":[{"filter":{"field":"s","oneOf":["methanol","ethanol","n-Propanol","2-Propanol","2-Butanol"]}}],
   "mark":{"type":"point","filled":false,"color":"#008000","strokeWidth":1.6,"size":380,"opacity":1},
   "encoding":{"x":{"field":"x","type":"quantitative","scale":{"type":"log","domain":[0.01507,100],"nice":false},"axis":null},
    "y":{"field":"a","type":"quantitative","scale":{"type":"log","domain":[0.15,20],"nice":false},"axis":null},
    "shape":{"field":"s","type":"nominal","legend":{"orient":"none","legendX":1102,"legendY":658,"title":null,"labelFont":"Liberation Sans","labelFontSize":33,"labelColor":"black","labelLimit":0,"symbolSize":300,"symbolStrokeWidth":1.6,"symbolStrokeColor":"#008000","symbolFillColor":"transparent","labelOffset":31,"rowPadding":7,"padding":0},
     "scale":{"domain":["methanol","ethanol","n-Propanol","2-Propanol","2-Butanol"],"range":[
     "M0,-1L0.235,-0.324L0.951,-0.309L0.38,0.124L0.588,0.809L0,0.4L-0.588,0.809L-0.38,0.124L-0.951,-0.309L-0.235,-0.324Z M-0.04,-0.04L0.04,-0.04L0.04,0.04L-0.04,0.04Z",
     "M-0.9,-0.7L0.9,-0.7L0,0.95Z M-1,-0.25L1,-0.25 M0,-1L0,0.95",
     "M-0.7,-0.9L0.95,0L-0.7,0.9Z M-0.25,-1L-0.25,1 M-1,0L0.95,0",
     "M0.7,-0.9L-0.95,0L0.7,0.9Z M0.25,-1L0.25,1 M1,0L-0.95,0",
     "M-0.9,0.7L0.9,0.7L0,-0.95Z M-1,0.25L1,0.25 M0,1L0,-0.95"]}}}},
  {"data":{"name":"alpha"},"transform":[{"filter":{"field":"s","oneOf":["acetaldehyde","acetone"]}}],
   "mark":{"type":"point","filled":false,"color":"#000000","strokeWidth":1.6,"size":380,"opacity":1},
   "encoding":{"x":{"field":"x","type":"quantitative","scale":{"type":"log","domain":[0.01507,100],"nice":false},"axis":null},
    "y":{"field":"a","type":"quantitative","scale":{"type":"log","domain":[0.15,20],"nice":false},"axis":null},
    "shape":{"field":"s","type":"nominal","legend":{"orient":"none","legendX":798,"legendY":781,"title":null,"labelFont":"Liberation Sans","labelFontSize":33,"labelColor":"black","labelLimit":0,"symbolSize":300,"symbolStrokeWidth":1.6,"symbolStrokeColor":"#000000","symbolFillColor":"transparent","labelOffset":31,"rowPadding":7,"padding":0},
     "scale":{"domain":["acetaldehyde","acetone"],"range":[
     "M0,-1L0.951,-0.309L0.588,0.809L-0.588,0.809L-0.951,-0.309Z M-0.04,-0.04L0.04,-0.04L0.04,0.04L-0.04,0.04Z",
     "M0,-1L0.8,-0.5L0.8,0.5L0,1L-0.8,0.5L-0.8,-0.5Z M-0.04,-0.04L0.04,-0.04L0.04,0.04L-0.04,0.04Z"]}}}},
  {"data":{"name":"alpha"},"transform":[{"filter":{"field":"s","oneOf":["propane","butane","isobutane","pentane","hexane","cyclohexane","heptane"]}}],
   "mark":{"type":"point","filled":false,"color":"#ff0000","strokeWidth":1.6,"size":380,"opacity":1},
   "encoding":{"x":{"field":"x","type":"quantitative","scale":{"type":"log","domain":[0.01507,100],"nice":false},"axis":null},
    "y":{"field":"a","type":"quantitative","scale":{"type":"log","domain":[0.15,20],"nice":false},"axis":null},
    "shape":{"field":"s","type":"nominal","legend":{"orient":"none","legendX":1380,"legendY":576,"title":null,"labelFont":"Liberation Sans","labelFontSize":33,"labelColor":"black","labelLimit":0,"symbolSize":300,"symbolStrokeWidth":1.6,"symbolStrokeColor":"#ff0000","symbolFillColor":"transparent","labelOffset":31,"rowPadding":7,"padding":0},
     "scale":{"domain":["propane","butane","isobutane","pentane","hexane","cyclohexane","heptane"],"range":[
     "M-0.8,-0.8L0.8,-0.8L0.8,0.8L-0.8,0.8Z M-0.04,-0.04L0.04,-0.04L0.04,0.04L-0.04,0.04Z",
     "M0.75,-0.95L-0.95,0L0.75,0.95Z M-0.04,-0.04L0.04,-0.04L0.04,0.04L-0.04,0.04Z",
     "M-0.75,-0.95L0.95,0L-0.75,0.95Z M-0.04,-0.04L0.04,-0.04L0.04,0.04L-0.04,0.04Z",
     "M0,-1L0.75,0L0,1L-0.75,0Z M-0.04,-0.04L0.04,-0.04L0.04,0.04L-0.04,0.04Z",
     "M-0.95,-0.75L0.95,-0.75L0,0.95Z M-0.04,-0.04L0.04,-0.04L0.04,0.04L-0.04,0.04Z",
     "M-0.95,0.75L0.95,0.75L0,-0.95Z M-0.04,-0.04L0.04,-0.04L0.04,0.04L-0.04,0.04Z",
     "M-0.85,0A0.85,0.85 0 1,0 0.85,0A0.85,0.85 0 1,0 -0.85,0Z M-0.04,-0.04L0.04,-0.04L0.04,0.04L-0.04,0.04Z"]}}}},
  {"data":{"name":"alpha"},"transform":[{"filter":{"field":"s","oneOf":["CO2","R23","R32","R125","R134a","R143a","R152a","R227ea"]}}],
   "mark":{"type":"point","filled":true,"color":"#0000ff","strokeWidth":0,"size":340,"opacity":1},
   "encoding":{"x":{"field":"x","type":"quantitative","scale":{"type":"log","domain":[0.01507,100],"nice":false},"axis":null},
    "y":{"field":"a","type":"quantitative","scale":{"type":"log","domain":[0.15,20],"nice":false},"axis":null},
    "shape":{"field":"s","type":"nominal","legend":{"orient":"none","legendX":1643,"legendY":535,"title":null,"labelFont":"Liberation Sans","labelFontSize":33,"labelColor":"black","labelLimit":0,"symbolSize":280,"symbolStrokeWidth":0,"symbolFillColor":"#0000ff","labelOffset":31,"rowPadding":7,"padding":0},
     "scale":{"domain":["CO2","R23","R32","R125","R134a","R143a","R152a","R227ea"],"range":[
     "M-0.88,-0.88L0,-0.88L0,0.88L-0.88,0.88Z M0,-0.88L0.88,-0.88L0.88,0.88L0,0.88L0,0.72L0.72,0.72L0.72,-0.72L0,-0.72Z",
     "M0,-1.099L-1.045,-0.34L-0.646,0.889L0,0.889Z M0,-1.099L1.045,-0.34L0.646,0.889L0,0.889L0,0.729L0.53,0.729L0.857,-0.278L0,-0.901Z",
     "M0,-1.133L-0.85,0L0,1.133Z M0,-1.133L0.85,0L0,1.133L0,0.867L0.65,0L0,-0.867Z",
     "M0,-0.83L-1.086,-0.83L0,1.114Z M0,-0.83L1.086,-0.83L0,1.114L0,0.786L0.814,-0.67L0,-0.67Z",
     "M0,0.83L-1.086,0.83L0,-1.114Z M0,0.83L1.086,0.83L0,-1.114L0,-0.786L0.814,0.67L0,0.67Z",
     "M-1.114,0L-0.142,-0.543L-0.142,0.543Z M-0.142,-0.543L0.83,-1.086L0.83,1.086L-0.142,0.543L-0.058,0.407L0.67,0.814L0.67,-0.814L-0.058,-0.407Z",
     "M-0.83,-1.086L0.142,-0.543L0.142,0.543L-0.83,1.086Z M0.142,-0.543L1.114,0L0.142,0.543L0.058,0.407L0.786,0L0.058,-0.407Z",
     "M0,-0.93A0.93,0.93 0 0,0 0,0.93Z M0,-0.93A0.93,0.93 0 0,1 0,0.93L0,0.77A0.77,0.77 0 0,0 0,-0.77Z"]}}}},
  {"data":{"name":"bL"},"transform":[{"filter":{"field":"id","oneOf":["arrD","arrU"]}}],"mark":{"type":"line","color":"black","strokeWidth":1.6},"encoding":{
   "x":{"field":"x","type":"quantitative","scale":{"type":"log","domain":[0.01507,100],"nice":false},"axis":null},
   "y":{"field":"y","type":"quantitative","scale":{"type":"log","domain":[0.15,20],"nice":false},"axis":null},"detail":{"field":"id"}}},
  {"data":{"name":"bL"},"transform":[{"filter":{"field":"id","oneOf":["ch3","c7"]}}],"mark":{"type":"line","color":"#8000ff","strokeWidth":3},"encoding":{
   "x":{"field":"x","type":"quantitative","scale":{"type":"log","domain":[0.01507,100],"nice":false},"axis":null},
   "y":{"field":"y","type":"quantitative","scale":{"type":"log","domain":[0.15,20],"nice":false},"axis":null},"detail":{"field":"id"}}},
  {"data":{"name":"bL"},"transform":[{"filter":{"field":"id","equal":"patm"}}],"mark":{"type":"line","color":"#8000ff","strokeWidth":11},"encoding":{
   "x":{"field":"x","type":"quantitative","scale":{"type":"log","domain":[0.01507,100],"nice":false},"axis":null},
   "y":{"field":"y","type":"quantitative","scale":{"type":"log","domain":[0.15,20],"nice":false},"axis":null},"detail":{"field":"id"}}},
  {"data":{"name":"bH"},"transform":[{"filter":{"field":"id","equal":"arrD"}}],"mark":{"type":"point","shape":"M0,1L0.45,-1L-0.45,-1Z","filled":true,"color":"black","size":324,"opacity":1,"strokeWidth":0},"encoding":{
   "x":{"field":"x","type":"quantitative","scale":{"type":"log","domain":[0.01507,100],"nice":false},"axis":null},
   "y":{"field":"y","type":"quantitative","scale":{"type":"log","domain":[0.15,20],"nice":false},"axis":null}}},
  {"data":{"name":"bH"},"transform":[{"filter":{"field":"id","equal":"arrU"}}],"mark":{"type":"point","shape":"M0,-1L0.45,1L-0.45,1Z","filled":true,"color":"black","size":324,"opacity":1,"strokeWidth":0},"encoding":{
   "x":{"field":"x","type":"quantitative","scale":{"type":"log","domain":[0.01507,100],"nice":false},"axis":null},
   "y":{"field":"y","type":"quantitative","scale":{"type":"log","domain":[0.15,20],"nice":false},"axis":null}}},
  {"data":{"name":"bH"},"transform":[{"filter":{"field":"id","equal":"ch3"}}],"mark":{"type":"point","shape":"M0,1L0.6,-1L-0.6,-1Z","filled":true,"color":"#8000ff","size":324,"opacity":1,"strokeWidth":0},"encoding":{
   "x":{"field":"x","type":"quantitative","scale":{"type":"log","domain":[0.01507,100],"nice":false},"axis":null},
   "y":{"field":"y","type":"quantitative","scale":{"type":"log","domain":[0.15,20],"nice":false},"axis":null}}},
  {"data":{"name":"bH"},"transform":[{"filter":{"field":"id","equal":"c7"}}],"mark":{"type":"point","shape":"M0,-1L0.6,1L-0.6,1Z","filled":true,"color":"#8000ff","size":324,"opacity":1,"strokeWidth":0},"encoding":{
   "x":{"field":"x","type":"quantitative","scale":{"type":"log","domain":[0.01507,100],"nice":false},"axis":null},
   "y":{"field":"y","type":"quantitative","scale":{"type":"log","domain":[0.15,20],"nice":false},"axis":null}}},
  {"data":{"name":"bH"},"transform":[{"filter":{"field":"id","equal":"patm"}}],"mark":{"type":"point","shape":"M0,-1L0.68,1L-0.68,1Z","filled":true,"color":"#8000ff","size":1444,"opacity":1,"strokeWidth":0},"encoding":{
   "x":{"field":"x","type":"quantitative","scale":{"type":"log","domain":[0.01507,100],"nice":false},"axis":null},
   "y":{"field":"y","type":"quantitative","scale":{"type":"log","domain":[0.15,20],"nice":false},"axis":null}}},
  {"data":{"name":"bA55"},"mark":{"type":"text","align":"left","baseline":"alphabetic","font":"Liberation Serif","fontStyle":"italic","fontSize":55,"color":"black"},"encoding":{
   "x":{"field":"x","type":"quantitative","scale":{"type":"log","domain":[0.01507,100],"nice":false},"axis":null},
   "y":{"field":"y","type":"quantitative","scale":{"type":"log","domain":[0.15,20],"nice":false},"axis":null},"text":{"field":"t"}}},
  {"data":{"name":"bA40"},"mark":{"type":"text","align":"left","baseline":"alphabetic","font":"Liberation Serif","fontStyle":"italic","fontSize":44,"color":"black"},"encoding":{
   "x":{"field":"x","type":"quantitative","scale":{"type":"log","domain":[0.01507,100],"nice":false},"axis":null},
   "y":{"field":"y","type":"quantitative","scale":{"type":"log","domain":[0.15,20],"nice":false},"axis":null},"text":{"field":"t"}}},
  {"data":{"name":"bT50"},"mark":{"type":"text","align":"left","baseline":"alphabetic","font":"Liberation Sans","fontSize":50,"color":"black"},"encoding":{
   "x":{"field":"x","type":"quantitative","scale":{"type":"log","domain":[0.01507,100],"nice":false},"axis":null},
   "y":{"field":"y","type":"quantitative","scale":{"type":"log","domain":[0.15,20],"nice":false},"axis":null},"text":{"field":"t"}}},
  {"data":{"name":"bT38"},"mark":{"type":"text","align":"left","baseline":"alphabetic","font":"Liberation Sans","fontSize":38,"color":"black"},"encoding":{
   "x":{"field":"x","type":"quantitative","scale":{"type":"log","domain":[0.01507,100],"nice":false},"axis":null},
   "y":{"field":"y","type":"quantitative","scale":{"type":"log","domain":[0.15,20],"nice":false},"axis":null},"text":{"field":"t"}}},
  {"data":{"name":"bT36"},"mark":{"type":"text","align":"left","baseline":"alphabetic","font":"Liberation Sans","fontSize":36,"color":"black"},"encoding":{
   "x":{"field":"x","type":"quantitative","scale":{"type":"log","domain":[0.01507,100],"nice":false},"axis":null},
   "y":{"field":"y","type":"quantitative","scale":{"type":"log","domain":[0.15,20],"nice":false},"axis":null},"text":{"field":"t"}}},
  {"data":{"name":"bT34"},"mark":{"type":"text","align":"left","baseline":"alphabetic","font":"Liberation Sans","fontSize":34,"color":"black"},"encoding":{
   "x":{"field":"x","type":"quantitative","scale":{"type":"log","domain":[0.01507,100],"nice":false},"axis":null},
   "y":{"field":"y","type":"quantitative","scale":{"type":"log","domain":[0.15,20],"nice":false},"axis":null},"text":{"field":"t"}}},
  {"data":{"name":"bT28"},"mark":{"type":"text","align":"left","baseline":"alphabetic","font":"Liberation Sans","fontSize":28,"color":"black"},"encoding":{
   "x":{"field":"x","type":"quantitative","scale":{"type":"log","domain":[0.01507,100],"nice":false},"axis":null},
   "y":{"field":"y","type":"quantitative","scale":{"type":"log","domain":[0.15,20],"nice":false},"axis":null},"text":{"field":"t"}}},
  {"data":{"name":"bN34"},"mark":{"type":"text","align":"left","baseline":"alphabetic","font":"Liberation Sans","fontSize":34,"color":"#000080"},"encoding":{
   "x":{"field":"x","type":"quantitative","scale":{"type":"log","domain":[0.01507,100],"nice":false},"axis":null},
   "y":{"field":"y","type":"quantitative","scale":{"type":"log","domain":[0.15,20],"nice":false},"axis":null},"text":{"field":"t"}}},
  {"data":{"name":"bN24"},"mark":{"type":"text","align":"left","baseline":"alphabetic","font":"Liberation Sans","fontSize":24,"color":"#000080"},"encoding":{
   "x":{"field":"x","type":"quantitative","scale":{"type":"log","domain":[0.01507,100],"nice":false},"axis":null},
   "y":{"field":"y","type":"quantitative","scale":{"type":"log","domain":[0.15,20],"nice":false},"axis":null},"text":{"field":"t"}}},
  {"data":{"name":"bP34"},"mark":{"type":"text","align":"left","baseline":"alphabetic","font":"Liberation Sans","fontSize":34,"color":"#8000ff"},"encoding":{
   "x":{"field":"x","type":"quantitative","scale":{"type":"log","domain":[0.01507,100],"nice":false},"axis":null},
   "y":{"field":"y","type":"quantitative","scale":{"type":"log","domain":[0.15,20],"nice":false},"axis":null},"text":{"field":"t"}}},
  {"data":{"name":"bP24"},"mark":{"type":"text","align":"left","baseline":"alphabetic","font":"Liberation Sans","fontSize":24,"color":"#8000ff"},"encoding":{
   "x":{"field":"x","type":"quantitative","scale":{"type":"log","domain":[0.01507,100],"nice":false},"axis":null},
   "y":{"field":"y","type":"quantitative","scale":{"type":"log","domain":[0.15,20],"nice":false},"axis":null},"text":{"field":"t"}}},
  {"data":{"name":"bP42"},"mark":{"type":"text","align":"left","baseline":"alphabetic","font":"Liberation Sans","fontSize":42,"color":"#8000ff"},"encoding":{
   "x":{"field":"x","type":"quantitative","scale":{"type":"log","domain":[0.01507,100],"nice":false},"axis":null},
   "y":{"field":"y","type":"quantitative","scale":{"type":"log","domain":[0.15,20],"nice":false},"axis":null},"text":{"field":"t"}}},
  {"data":{"name":"bX42"},"mark":{"type":"text","align":"left","baseline":"alphabetic","font":"Liberation Sans","fontSize":42,"color":"black"},"encoding":{
   "x":{"field":"x","type":"quantitative","scale":{"type":"log","domain":[0.01507,100],"nice":false},"axis":null},
   "y":{"field":"y","type":"quantitative","scale":{"type":"log","domain":[0.15,20],"nice":false},"axis":null},"text":{"field":"t"}}},
  {"data":{"name":"bX30"},"mark":{"type":"text","align":"left","baseline":"alphabetic","font":"Liberation Sans","fontSize":30,"color":"black"},"encoding":{
   "x":{"field":"x","type":"quantitative","scale":{"type":"log","domain":[0.01507,100],"nice":false},"axis":null},
   "y":{"field":"y","type":"quantitative","scale":{"type":"log","domain":[0.15,20],"nice":false},"axis":null},"text":{"field":"t"}}}
 ]
}
]
}
